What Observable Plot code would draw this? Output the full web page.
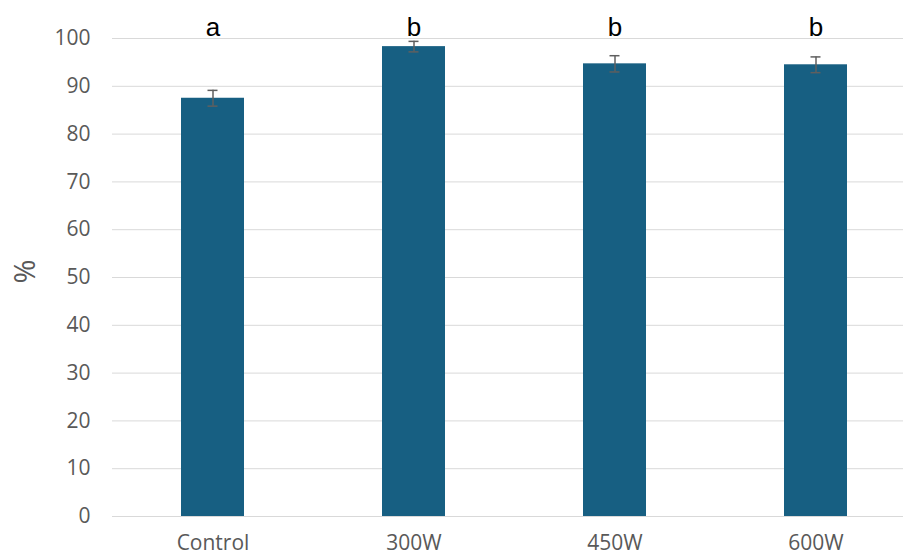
<!DOCTYPE html>
<html>
<head>
<meta charset="utf-8">
<script src="https://cdn.jsdelivr.net/npm/d3@7"></script>
<script src="https://cdn.jsdelivr.net/npm/@observablehq/plot@0.6"></script>
<style>
  html, body { margin: 0; padding: 0; background: #fff; }
</style>
</head>
<body>
<div id="chart"></div>
<script>
const categories = ["Control", "300W", "450W", "600W"];
const values = [87.5, 98.3, 94.7, 94.5];
const errors = [1.65, 1.1, 1.7, 1.65];
const letters = ["a", "b", "b", "b"];
const yTicks = [0, 10, 20, 30, 40, 50, 60, 70, 80, 90, 100];

const data = categories.map((c, i) => ({
  cat: c, v: values[i], lo: values[i] - errors[i], hi: values[i] + errors[i], letter: letters[i]
}));

const chart = Plot.plot({
  width: 903,
  height: 557,
  marginLeft: 112,
  marginRight: 0,
  marginTop: 38,
  marginBottom: 41,
  style: { fontFamily: "'Open Sans', Roboto, sans-serif", fontSize: "21px", background: "#fff" },
  x: { domain: categories, range: [111.5, 915.5], paddingInner: 0.687, paddingOuter: 0.3435, align: 0.5, label: null },
  y: { domain: [0, 100], label: null },
  marks: [
    Plot.ruleY(yTicks, { stroke: "#d9d9d9", strokeWidth: 1 }),
    Plot.axisY({ ticks: yTicks, tickSize: 0, tickPadding: 22, fontSize: 21, fill: "#595959", label: null }),
    Plot.axisX({ tickSize: 0, tickPadding: 19, fontSize: 21, fill: "#595959", label: null }),
    Plot.barY(data, { x: "cat", y: "v", fill: "#175f82" }),
    Plot.ruleX(data, { x: "cat", y1: "lo", y2: "hi", stroke: "#5f5f5f", strokeWidth: 1.5 }),
    Plot.tickY(data, { x: "cat", y: "lo", stroke: "#5f5f5f", strokeWidth: 1.5, insetLeft: 26.5, insetRight: 26.5 }),
    Plot.tickY(data, { x: "cat", y: "hi", stroke: "#5f5f5f", strokeWidth: 1.5, insetLeft: 26.5, insetRight: 26.5 }),
    Plot.text(data, { x: "cat", y: () => 102.3, text: "letter", fontSize: 26, fill: "#000", fontFamily: "'Liberation Sans', Arial, sans-serif" }),
    Plot.text(["%"], { frameAnchor: "left", dx: -87, dy: 6, rotate: -90, fontSize: 29, fill: "#595959" })
  ]
});
document.getElementById("chart").appendChild(chart);
</script>
</body>
</html>
